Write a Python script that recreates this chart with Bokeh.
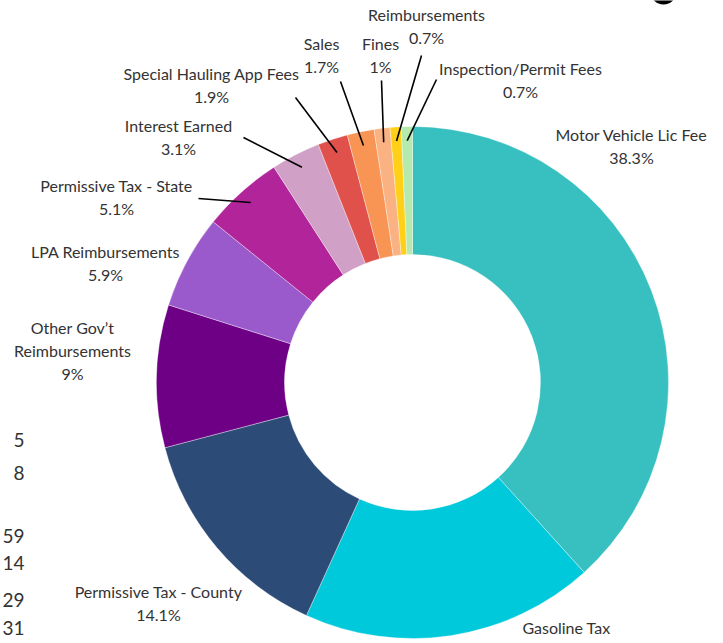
import math
from bokeh.plotting import figure
from bokeh.models import ColumnDataSource, Range1d
from bokeh.core.properties import value
from bokeh.embed import file_html
from bokeh.resources import INLINE

# ---- data ----
categories = ["Motor Vehicle Lic Fee", "Gasoline Tax", "Permissive Tax - County",
              "Other Gov\u2019t Reimbursements", "LPA Reimbursements", "Permissive Tax - State",
              "Interest Earned", "Special Hauling App Fees", "Sales", "Fines",
              "Reimbursements", "Inspection/Permit Fees"]
shares = [38.3, 18.5, 14.1, 9.0, 5.9, 5.1, 3.1, 1.9, 1.7, 1.0, 0.7, 0.7]
# the Gasoline Tax percentage falls below the visible area in the reference
pct_labels = ["38.3%", None, "14.1%", "9%", "5.9%", "5.1%", "3.1%", "1.9%",
              "1.7%", "1%", "0.7%", "0.7%"]
name_lines = [["Motor Vehicle Lic Fee"], ["Gasoline Tax"], ["Permissive Tax - County"],
              ["Other Gov\u2019t", "Reimbursements"], ["LPA Reimbursements"],
              ["Permissive Tax - State"], ["Interest Earned"], ["Special Hauling App Fees"],
              ["Sales"], ["Fines"], ["Reimbursements"], ["Inspection/Permit Fees"]]
colors = ["#37C0BF", "#00C9DC", "#2C4B77", "#6E0086", "#9A5ACB", "#B2259A",
          "#D0A0C6", "#E0514B", "#F89454", "#FAB282", "#FFD017", "#B4EAAE"]
# stray partial numbers from a neighbouring table at the left edge
edge_numbers = ["5", "8", "59", "14", "29", "31"]

# ---- layout (pixel positions in the picture) ----
W, H = 715, 643
def sx(x): return x
def sy(y): return H - y

CX, CY = sx(412), sy(382)
R_OUT, R_IN = 256, 128
LEADER_R = 242
# label centres (px): first line y, line step 23
label_pos = [(631, 134), (566, 627), (158, 591), (72, 327), (105, 251), (116, 185),
             (178, 125), (211, 73), (321, 43), (380, 43), (426, 14), (520, 68)]
# leader line outer ends (px), None = no leader
leader_end = [None, None, None, None, None, (198, 198), (243, 137), (295, 97),
              (340, 81), (381, 80), (421, 55), (436, 79)]
edge_num_y = [439, 472, 535, 562, 599, 627]

p = figure(width=W, height=H, output_backend="svg", toolbar_location=None,
           x_range=Range1d(0, W), y_range=Range1d(0, H), min_border=0)
p.axis.visible = False
p.grid.visible = False
p.outline_line_color = None
p.background_fill_color = "white"

total = sum(shares)
starts, ends, mids = [], [], []
cum = 0.0
for s in shares:
    a0 = math.pi / 2 - 2 * math.pi * cum / total
    cum += s
    a1 = math.pi / 2 - 2 * math.pi * cum / total
    starts.append(a0); ends.append(a1); mids.append((a0 + a1) / 2)

src = ColumnDataSource(dict(start=starts, end=ends, color=colors))
p.annular_wedge(x=CX, y=CY, inner_radius=R_IN, outer_radius=R_OUT,
                start_angle="start", end_angle="end", direction="clock",
                fill_color="color", line_color="white", line_width=0.6,
                line_alpha=0.6, source=src)

# leader lines
x0, y0, x1, y1 = [], [], [], []
for m, e in zip(mids, leader_end):
    if e is None:
        continue
    x0.append(CX + LEADER_R * math.cos(m)); y0.append(CY + LEADER_R * math.sin(m))
    x1.append(sx(e[0])); y1.append(sy(e[1]))
p.segment(x0=x0, y0=y0, x1=x1, y1=y1, line_color="black", line_width=1.6)

# labels
tx, ty, tt = [], [], []
for lines, pct, (lx, ly) in zip(name_lines, pct_labels, label_pos):
    rows = lines + ([pct] if pct else [])
    for i, t in enumerate(rows):
        tx.append(sx(lx)); ty.append(sy(ly + 23 * i)); tt.append(t)
p.text(x=tx, y=ty, text=tt, text_align="center", text_baseline="middle",
       text_font=value("Lato"), text_font_size="16px", text_color="#333333")

# numbers at left edge
p.text(x=[sx(24)] * len(edge_numbers), y=[sy(v) for v in edge_num_y], text=edge_numbers,
       text_align="right", text_baseline="middle", text_font=value("Lato"),
       text_font_size="19px", text_color="#333333")

# bottom of a black round badge peeking in at the top right
p.circle(x=[sx(663)], y=[sy(-9)], radius=13, fill_color="black", line_color=None)

open("out.html", "w").write(file_html(p, INLINE))
